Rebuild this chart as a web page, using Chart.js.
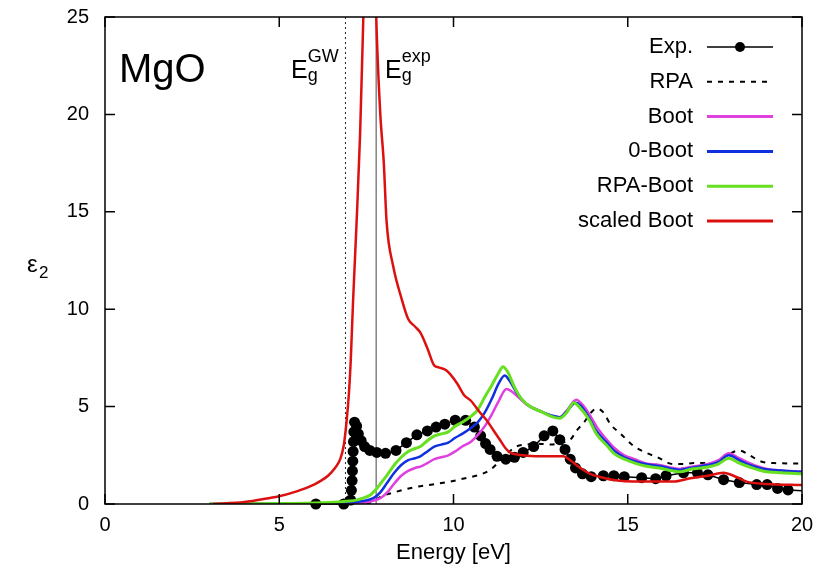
<!DOCTYPE html>
<html>
<head>
<meta charset="utf-8">
<script src="https://cdn.jsdelivr.net/npm/chart.js@4.4.1/dist/chart.umd.min.js"></script>
<style>
  html, body { margin: 0; padding: 0; background: #fff; }
</style>
</head>
<body>
<canvas id="myChart" width="819" height="575"></canvas>
<script>
// experiment (dots)
const expE   = [6.05, 6.85, 7.05, 7.07, 7.09, 7.10, 7.11, 7.12, 7.13, 7.14, 7.16, 7.22, 7.27, 7.35, 7.45, 7.6, 7.8, 8.05, 8.35, 8.65, 8.95, 9.25, 9.5, 9.75, 10.05, 10.35, 10.6, 10.78, 10.92, 11.05, 11.25, 11.5, 11.75, 12.0, 12.3, 12.6, 12.85, 13.05, 13.2, 13.35, 13.5, 13.7, 13.95, 14.3, 14.6, 14.9, 15.4, 15.8, 16.1, 16.6, 17.0, 17.3, 17.75, 18.2, 18.7, 19.0, 19.3, 19.6, 20.0];
const expEps = [0.0, 0.0, 0.2, 0.7, 1.2, 1.7, 2.2, 2.7, 3.2, 3.7, 4.2, 4.0, 3.6, 3.25, 2.95, 2.75, 2.65, 2.6, 2.75, 3.15, 3.55, 3.75, 3.95, 4.1, 4.3, 4.3, 3.95, 3.5, 3.1, 2.8, 2.45, 2.3, 2.4, 2.65, 2.95, 3.5, 3.75, 3.3, 2.8, 2.3, 1.85, 1.55, 1.4, 1.45, 1.45, 1.4, 1.35, 1.3, 1.45, 1.6, 1.6, 1.5, 1.25, 1.1, 1.0, 1.0, 0.8, 0.72, 0.68];

// RPA (dashed)
const rpaE   = [7.5, 7.7, 7.9, 8.3, 8.85, 9.4, 9.9, 10.4, 10.75, 11.05, 11.3, 11.55, 11.8, 12.1, 12.4, 12.8, 13.1, 13.35, 13.55, 13.75, 13.95, 14.1, 14.3, 14.5, 14.8, 15.15, 15.5, 15.85, 16.3, 16.6, 16.9, 17.4, 17.7, 17.95, 18.2, 18.5, 18.8, 19.2, 20.0];
const rpaEps = [0, 0.15, 0.37, 0.6, 0.85, 1.0, 1.15, 1.35, 1.5, 1.75, 2.15, 2.6, 2.95, 3.05, 3.1, 3.05, 3.15, 3.3, 3.8, 4.2, 4.7, 4.9, 4.7, 4.1, 3.6, 3.0, 2.65, 2.4, 2.05, 2.05, 2.1, 2.1, 2.3, 2.6, 2.75, 2.5, 2.2, 2.1, 2.08];

// Boot
const bootE   = [3.0, 6.0, 7.2, 7.6, 7.9, 8.1, 8.3, 8.5, 8.7, 8.9, 9.05, 9.25, 9.45, 9.65, 9.85, 10.05, 10.25, 10.5, 10.7, 10.9, 11.1, 11.3, 11.52, 11.65, 11.85, 12.1, 12.4, 12.7, 13.05, 13.25, 13.52, 13.7, 13.95, 14.15, 14.4, 14.6, 14.9, 15.2, 15.5, 15.9, 16.3, 16.5, 16.8, 17.3, 17.6, 17.9, 18.2, 18.5, 18.7, 19.0, 19.4, 20.0];
const bootEps = [0, 0.01, 0.05, 0.12, 0.3, 0.6, 1.05, 1.45, 1.7, 1.85, 1.92, 2.1, 2.3, 2.4, 2.5, 2.7, 2.95, 3.2, 3.55, 4.0, 4.6, 5.3, 5.9, 5.8, 5.5, 5.1, 4.85, 4.6, 4.45, 4.8, 5.35, 5.1, 4.45, 3.85, 3.3, 2.9, 2.5, 2.3, 2.1, 2.0, 1.85, 1.8, 1.9, 2.05, 2.25, 2.6, 2.35, 2.1, 1.95, 1.8, 1.72, 1.66];

// 0-Boot
const zeroBootE   = [3.0, 6.0, 7.0, 7.4, 7.7, 7.9, 8.1, 8.3, 8.5, 8.7, 8.9, 9.05, 9.25, 9.45, 9.65, 9.85, 10.05, 10.25, 10.5, 10.7, 10.9, 11.1, 11.3, 11.47, 11.6, 11.8, 12.0, 12.2, 12.5, 12.8, 13.05, 13.25, 13.5, 13.65, 13.9, 14.1, 14.4, 14.6, 14.9, 15.2, 15.5, 15.9, 16.3, 16.5, 16.8, 17.3, 17.6, 17.9, 18.2, 18.5, 18.9, 19.4, 20.0];
const zeroBootEps = [0, 0.02, 0.08, 0.15, 0.3, 0.6, 1.1, 1.6, 2.0, 2.25, 2.35, 2.45, 2.7, 2.95, 3.05, 3.15, 3.4, 3.6, 3.9, 4.2, 4.7, 5.4, 6.2, 6.6, 6.35, 5.75, 5.3, 5.0, 4.75, 4.55, 4.45, 4.75, 5.2, 5.05, 4.4, 3.75, 3.15, 2.75, 2.4, 2.2, 2.05, 1.95, 1.8, 1.75, 1.85, 2.0, 2.15, 2.5, 2.25, 2.0, 1.8, 1.72, 1.65];

// RPA-Boot
const rpaBootE   = [3.0, 5.0, 6.0, 6.7, 7.0, 7.2, 7.4, 7.6, 7.8, 7.95, 8.1, 8.3, 8.5, 8.7, 8.9, 9.05, 9.25, 9.45, 9.65, 9.85, 10.05, 10.25, 10.5, 10.7, 10.9, 11.1, 11.3, 11.42, 11.55, 11.75, 11.95, 12.2, 12.5, 12.8, 13.05, 13.25, 13.45, 13.6, 13.9, 14.1, 14.4, 14.6, 14.9, 15.2, 15.5, 15.9, 16.3, 16.5, 16.8, 17.3, 17.6, 17.9, 18.2, 18.5, 18.9, 19.4, 20.0];
const rpaBootEps = [0, 0.02, 0.05, 0.1, 0.15, 0.2, 0.3, 0.45, 0.8, 1.15, 1.5, 2.0, 2.4, 2.7, 2.85, 2.95, 3.25, 3.5, 3.6, 3.7, 4.0, 4.2, 4.5, 4.85, 5.5, 6.1, 6.75, 7.05, 6.8, 6.0, 5.4, 5.0, 4.75, 4.5, 4.4, 4.7, 5.2, 5.0, 4.3, 3.6, 3.0, 2.6, 2.3, 2.1, 1.95, 1.85, 1.7, 1.65, 1.78, 1.9, 2.05, 2.35, 2.1, 1.9, 1.68, 1.6, 1.55];

// scaled Boot
const scaledE   = [3.1, 4.0, 4.7, 5.0, 5.5, 6.0, 6.2, 6.4, 6.6, 6.75, 6.85, 6.93, 7.0, 7.05, 7.12, 7.22, 7.32, 7.42, 7.5, 7.6, 7.7, 7.8, 7.9, 8.0, 8.08, 8.27, 8.5, 8.7, 8.9, 9.05, 9.25, 9.45, 9.6, 9.8, 10.1, 10.3, 10.5, 10.76, 10.95, 11.14, 11.33, 11.5, 11.62, 12.0, 12.5, 13.15, 13.35, 13.6, 13.92, 14.3, 14.6, 15.35, 15.8, 16.3, 16.8, 17.3, 17.74, 18.1, 18.41, 19.0, 20.0];
const scaledEps = [0, 0.1, 0.3, 0.4, 0.65, 1.0, 1.2, 1.45, 1.85, 2.3, 3.0, 4.2, 5.7, 7.3, 10.5, 14.5, 19.0, 25.5, 31, 34, 30, 24, 20, 17.5, 14.5, 12.2, 10.6, 9.5, 9.1, 8.8, 8.0, 7.1, 7.0, 6.85, 6.2, 5.6, 5.3, 4.7, 4.3, 3.8, 3.3, 2.85, 2.65, 2.5, 2.45, 2.45, 2.25, 1.9, 1.55, 1.35, 1.23, 1.15, 1.15, 1.15, 1.32, 1.45, 1.6, 1.4, 1.15, 1.03, 0.97];

// gap markers
const gapGW = 6.9;
const gapExp = 7.78;

const xTicks = [0, 5, 10, 15, 20];
const yTicks = [0, 5, 10, 15, 20, 25];

const pts = (xs, ys) => xs.map((x, i) => ({ x: x, y: ys[i] }));

const FONT = '"Liberation Sans", Arial, Helvetica, sans-serif';

const legendItems = [
  { label: 'Exp.', color: '#000', dash: [], dot: true, width: 1.5 },
  { label: 'RPA', color: '#000', dash: [5, 6], width: 2 },
  { label: 'Boot', color: '#e040e0', dash: [], width: 3 },
  { label: '0-Boot', color: '#1030e0', dash: [], width: 3 },
  { label: 'RPA-Boot', color: '#66e020', dash: [], width: 3 },
  { label: 'scaled Boot', color: '#dd1010', dash: [], width: 3 },
];

const framePlugin = {
  id: 'frame',
  afterDatasetsDraw(chart) {
    const { ctx, chartArea: a, scales: { x, y } } = chart;
    ctx.save();
    ctx.strokeStyle = '#000';
    ctx.lineWidth = 1.5;
    ctx.beginPath();
    xTicks.forEach(v => {
      const px = x.getPixelForValue(v);
      ctx.moveTo(px, a.bottom); ctx.lineTo(px, a.bottom - 10);
      ctx.moveTo(px, a.top); ctx.lineTo(px, a.top + 10);
    });
    yTicks.forEach(v => {
      const py = y.getPixelForValue(v);
      ctx.moveTo(a.left, py); ctx.lineTo(a.left + 10, py);
      ctx.moveTo(a.right, py); ctx.lineTo(a.right - 10, py);
    });
    ctx.stroke();
    ctx.strokeRect(a.left, a.top, a.right - a.left, a.bottom - a.top);

    // material label
    ctx.fillStyle = '#000';
    ctx.textAlign = 'left';
    ctx.textBaseline = 'alphabetic';
    ctx.font = '40px ' + FONT;
    ctx.fillText('MgO', 119, 82);

    // gap labels
    const gapLabel = (xLeft, sup) => {
      ctx.font = '25px ' + FONT;
      ctx.fillText('E', xLeft, 78);
      const w = ctx.measureText('E').width;
      ctx.font = '18px ' + FONT;
      ctx.fillText('g', xLeft + w, 81);
      ctx.fillText(sup, xLeft + w, 62);
    };
    gapLabel(291, 'GW');
    gapLabel(385, 'exp');

    // y axis label
    ctx.font = '24px ' + FONT;
    ctx.fillText('\u03b5', 27, 272);
    ctx.font = '17px ' + FONT;
    ctx.fillText('2', 39, 278);

    // legend
    legendItems.forEach((it, i) => {
      const ly = 47 + i * 34.8;
      ctx.font = '22px ' + FONT;
      ctx.textAlign = 'right';
      ctx.textBaseline = 'middle';
      ctx.fillStyle = '#000';
      ctx.fillText(it.label, 693, ly);
      ctx.strokeStyle = it.color;
      ctx.lineWidth = it.width;
      ctx.setLineDash(it.dash);
      ctx.beginPath();
      ctx.moveTo(707, ly); ctx.lineTo(773, ly);
      ctx.stroke();
      ctx.setLineDash([]);
      if (it.dot) {
        ctx.beginPath();
        ctx.arc(740, ly, 5, 0, Math.PI * 2);
        ctx.fill();
      }
    });
    ctx.restore();
  }
};

const smooth = { cubicInterpolationMode: 'monotone', pointRadius: 0, fill: false };

const ctx = document.getElementById('myChart');
const myChart = new Chart(ctx, {
  type: 'line',
  data: {
    datasets: [
      { label: 'scaled Boot', data: pts(scaledE, scaledEps), borderColor: '#dd1010', borderWidth: 2.5, order: 0, ...smooth },
      { label: 'RPA-Boot', data: pts(rpaBootE, rpaBootEps), borderColor: '#66e020', borderWidth: 3, order: 1, ...smooth },
      { label: '0-Boot', data: pts(zeroBootE, zeroBootEps), borderColor: '#1030e0', borderWidth: 2.5, order: 2, ...smooth },
      { label: 'Boot', data: pts(bootE, bootEps), borderColor: '#e040e0', borderWidth: 2.5, order: 3, ...smooth },
      { label: 'RPA', data: pts(rpaE, rpaEps), borderColor: '#000', borderWidth: 2, borderDash: [5, 6], order: 4, ...smooth },
      {
        label: 'Exp.', data: pts(expE, expEps), borderColor: '#000', borderWidth: 1.5,
        backgroundColor: '#000', pointBorderWidth: 0, tension: 0, order: 5, clip: false,
        pointRadius: c => c.dataIndex === expE.length - 1 ? 0 : 5.5
      },
      { label: 'gw', data: [{ x: gapGW, y: 0 }, { x: gapGW, y: 25 }], borderColor: '#222', borderWidth: 1, borderDash: [2, 3], pointRadius: 0, order: 6 },
      { label: 'exp', data: [{ x: gapExp, y: 0 }, { x: gapExp, y: 25 }], borderColor: '#444', borderWidth: 1, pointRadius: 0, order: 6 }
    ]
  },
  options: {
    responsive: false,
    animation: false,
    devicePixelRatio: 1,
    layout: { padding: { top: 17, right: 17, left: 0, bottom: 0 } },
    plugins: { legend: { display: false }, tooltip: { enabled: false } },
    scales: {
      x: {
        type: 'linear', min: 0, max: 20,
        afterFit: s => { s.height = 71; s.paddingLeft = 0; s.paddingRight = 0; },
        afterBuildTicks: s => { s.ticks = xTicks.map(v => ({ value: v })); },
        grid: { display: false, drawTicks: false },
        border: { display: false },
        ticks: { padding: 9, color: '#000', font: { size: 20, family: FONT } },
        title: { display: true, text: 'Energy [eV]', color: '#000', font: { size: 22, family: FONT }, padding: { top: 0, bottom: 9 } }
      },
      y: {
        type: 'linear', min: 0, max: 25,
        afterFit: s => { s.width = 105; s.paddingTop = 0; s.paddingBottom = 0; },
        afterBuildTicks: s => { s.ticks = yTicks.map(v => ({ value: v })); },
        grid: { display: false, drawTicks: false },
        border: { display: false },
        ticks: { padding: 16, color: '#000', font: { size: 20, family: FONT } }
      }
    }
  },
  plugins: [framePlugin]
});
</script>
</body>
</html>
